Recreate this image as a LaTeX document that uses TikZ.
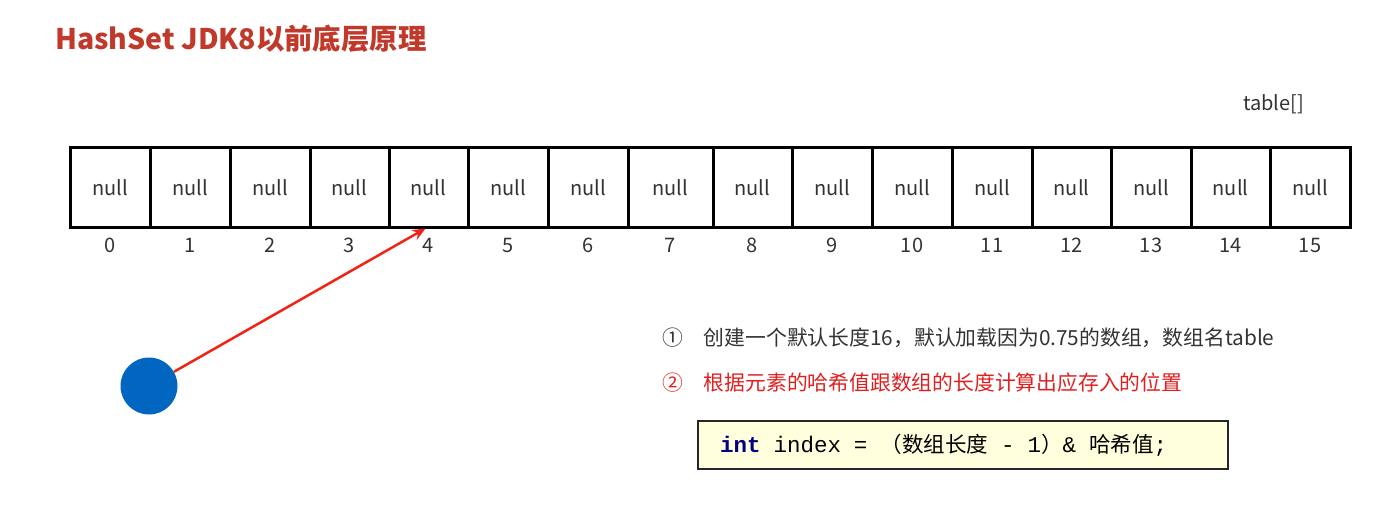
\documentclass[tikz,border=0pt]{standalone}
\usepackage{fontspec}
\setmainfont{Noto Sans CJK SC}
\setmonofont{Liberation Mono}
\newfontfamily\cjk{Noto Sans CJK SC}
\usetikzlibrary{arrows.meta}

\definecolor{titlered}{RGB}{192,57,43}
\definecolor{arrowred}{RGB}{240,35,20}
\definecolor{stepred}{RGB}{224,32,32}
\definecolor{dotblue}{RGB}{0,102,192}
\definecolor{codeyellow}{RGB}{255,255,221}
\definecolor{kwblue}{RGB}{0,0,128}

\newcommand\cn[1]{{\cjk\fontsize{21.5}{26}\selectfont #1}}

\tikzset{
  cell/.style={draw, line width=3pt, minimum height=79pt, inner sep=0pt,
    font=\fontsize{20}{24}\selectfont, text=black!80},
  idx/.style={inner sep=0pt, font=\fontsize{20}{24}\selectfont, text=black!80},
  note/.style={anchor=base west, inner sep=0pt, font=\fontsize{20.8}{25}\selectfont},
  ptr/.style={draw=arrowred, line width=2.5pt, -{Stealth[length=13pt,width=11pt]}},
}

\begin{document}
\begin{tikzpicture}[x=1pt,y=-1pt]
\useasboundingbox (0,0) rectangle (1387,532);

\node[anchor=base west, inner sep=0pt, text=titlered,
  font=\fontsize{28.4}{34}\selectfont\bfseries] (title) at (55,50) {HashSet JDK8以前底层原理};
\node[anchor=base west, inner sep=0pt, font=\fontsize{20}{24}\selectfont, text=black!80]
  (name) at (1243,111) {table[]};

% the array with its indices
\foreach \i/\l/\r in {0/70/150, 1/150/230, 2/230/310, 3/310/389, 4/389/468,
    5/468/548, 6/548/628, 7/628/713, 8/713/792, 9/792/872, 10/872/952,
    11/952/1032, 12/1032/1111, 13/1111/1191, 14/1191/1270, 15/1270/1350}{
  \node[cell, minimum width=\r pt-\l pt] (c\i) at ({(\l+\r)/2},187.5) {null};
  \node[idx] (n\i) at ([yshift=-17pt]c\i.south) {\i};
}

\node[circle, fill=dotblue, minimum size=57pt, inner sep=0pt] (obj) at (149,386) {};
\draw[ptr] (obj) -- ([xshift=-3pt]c4.south);

\node[note, text=black!80] (step1) at (662,345) {①\hspace{21pt}创建一个默认长度16，默认加载因为0.75的数组，数组名table};
\node[note, text=stepred] (step2) at (662,390) {②\hspace{21pt}根据元素的哈希值跟数组的长度计算出应存入的位置};

\node[draw=black!85, line width=1.5pt, fill=codeyellow, text width=486pt, align=left,
  inner xsep=22pt, minimum height=48pt, font=\fontsize{22.5}{26}\selectfont\ttfamily]
  (code) at (963,445) {\spaceskip=13pt\relax
  {\color{kwblue}\bfseries int} index = \cn{（数组长度} - 1\cn{）}\& \cn{哈希值};};
\end{tikzpicture}
\end{document}
